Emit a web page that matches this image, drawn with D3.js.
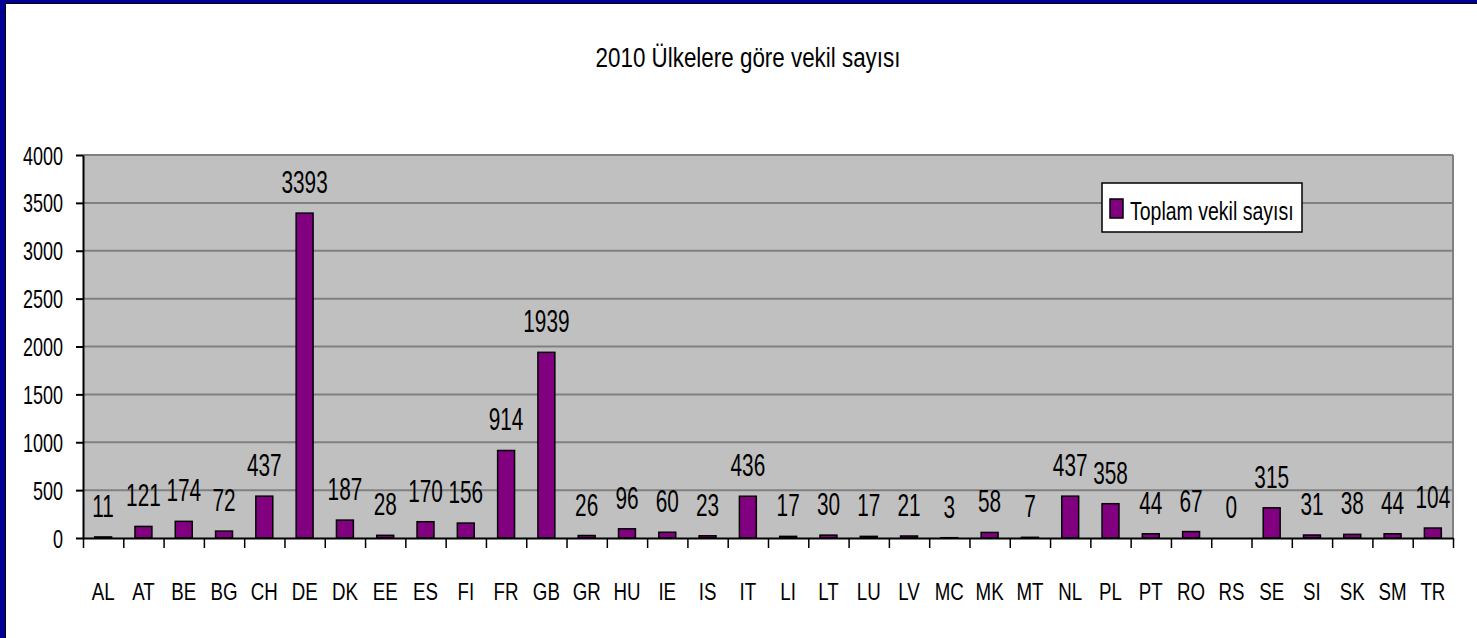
<!DOCTYPE html>
<html>
<head>
<meta charset="utf-8">
<script src="https://cdn.jsdelivr.net/npm/d3@7"></script>
<style>
  html, body { margin: 0; padding: 0; background: #fff; }
  svg text { font-family: "Liberation Sans", Arial, sans-serif; fill: #000; }
</style>
</head>
<body>
<div id="chart"></div>
<script>
// data
const countries = ["AL","AT","BE","BG","CH","DE","DK","EE","ES","FI","FR","GB","GR","HU","IE","IS","IT",
                   "LI","LT","LU","LV","MC","MK","MT","NL","PL","PT","RO","RS","SE","SI","SK","SM","TR"];
const deputies = [11,121,174,72,437,3393,187,28,170,156,914,1939,26,96,60,23,436,
                  17,30,17,21,3,58,7,437,358,44,67,0,315,31,38,44,104];
const yTicks = [0,500,1000,1500,2000,2500,3000,3500,4000];
const seriesName = "Toplam vekil sayısı";
const chartTitle = "2010 Ülkelere göre vekil sayısı";

const W = 1477, H = 638;
const plot = {left: 83, right: 1453, top: 155, bottom: 538};

const svg = d3.select("#chart").append("svg")
  .attr("width", W)
  .attr("height", H);

// frame (blue edge on left and top)
svg.append("rect").attr("x", 0).attr("y", 0).attr("width", W).attr("height", 4).attr("fill", "#000096");
svg.append("rect").attr("x", 0).attr("y", 0).attr("width", 6).attr("height", H).attr("fill", "#000096");
svg.append("line").attr("x1", 5.5).attr("x2", 5.5).attr("y1", 3).attr("y2", H).attr("stroke", "#000").attr("stroke-width", 1);
svg.append("line").attr("x1", 5).attr("x2", W).attr("y1", 3.5).attr("y2", 3.5).attr("stroke", "#000").attr("stroke-width", 1);

// scales
const x = d3.scaleBand()
  .domain(countries)
  .range([plot.left, plot.right])
  .paddingInner(0.58)
  .paddingOuter(0.29);

const xEdge = d3.scaleLinear()
  .domain([0, countries.length])
  .range([plot.left, plot.right]);

const y = d3.scaleLinear()
  .domain([0, 4000])
  .range([plot.bottom, plot.top]);

// plot area
svg.append("rect")
  .attr("x", plot.left).attr("y", plot.top)
  .attr("width", plot.right - plot.left)
  .attr("height", plot.bottom - plot.top)
  .attr("fill", "#c0c0c0");

// grid lines
svg.append("g")
  .selectAll("line")
  .data(yTicks.filter(d => d > 0))
  .join("line")
    .attr("x1", plot.left).attr("x2", plot.right)
    .attr("y1", d => y(d)).attr("y2", d => y(d))
    .attr("stroke", "#808080")
    .attr("stroke-width", 2);

svg.append("line")
  .attr("x1", plot.right).attr("x2", plot.right)
  .attr("y1", plot.top).attr("y2", plot.bottom)
  .attr("stroke", "#808080").attr("stroke-width", 2);

// bars
svg.append("g")
  .selectAll("rect")
  .data(countries.map((c, i) => ({c, v: deputies[i]})).filter(d => d.v > 0))
  .join("rect")
    .attr("x", d => x(d.c))
    .attr("y", d => y(d.v))
    .attr("width", x.bandwidth())
    .attr("height", d => y(0) - y(d.v))
    .attr("fill", "#800080")
    .attr("stroke", "#000")
    .attr("stroke-width", 1.5);

// value labels
svg.append("g")
  .selectAll("text")
  .data(countries.map((c, i) => ({c, v: deputies[i]})))
  .join("text")
    .attr("transform", d => `translate(${x(d.c) + x.bandwidth() / 2},${y(d.v) - 20}) scale(0.65,1)`)
    .attr("text-anchor", "middle")
    .style("font-size", "32px")
    .text(d => d.v);

// y axis
const yAxis = d3.axisLeft(y)
  .tickValues(yTicks)
  .tickFormat(d3.format("d"))
  .tickSizeInner(7)
  .tickSizeOuter(0)
  .tickPadding(18);

const gy = svg.append("g")
  .attr("transform", `translate(${plot.left},0)`)
  .call(yAxis);
gy.select(".domain").attr("stroke", "#000").attr("stroke-width", 2);
gy.selectAll(".tick line").attr("stroke", "#000").attr("stroke-width", 2);
gy.selectAll(".tick text")
  .attr("x", null)
  .attr("dy", "0.36em")
  .attr("transform", "translate(-20,0) scale(0.72,1)")
  .style("font-size", "25px");

// x axis: boundary ticks
const xTicksAxis = d3.axisBottom(xEdge)
  .tickValues(d3.range(countries.length + 1))
  .tickSizeInner(10)
  .tickSizeOuter(0)
  .tickFormat("");

const gx = svg.append("g")
  .attr("transform", `translate(0,${plot.bottom})`)
  .call(xTicksAxis);
gx.select(".domain").attr("stroke", "#000").attr("stroke-width", 2);
gx.selectAll(".tick line").attr("stroke", "#000").attr("stroke-width", 1.5);

// x axis: category labels
const gxl = svg.append("g")
  .attr("transform", `translate(0,${plot.bottom})`)
  .call(d3.axisBottom(x).tickSize(0).tickPadding(0));
gxl.select(".domain").remove();
gxl.selectAll(".tick text")
  .attr("y", null)
  .attr("dy", null)
  .attr("transform", "translate(0,62) scale(0.78,1)")
  .style("font-size", "24px");

// title
svg.append("text")
  .attr("transform", `translate(748,67) scale(0.8,1)`)
  .attr("text-anchor", "middle")
  .style("font-size", "28px")
  .text(chartTitle);

// legend
const legend = svg.append("g").attr("transform", "translate(1102,183)");
legend.append("rect")
  .attr("width", 200).attr("height", 49)
  .attr("fill", "#fff").attr("stroke", "#000").attr("stroke-width", 1.5);
legend.append("rect")
  .attr("x", 8).attr("y", 16).attr("width", 13).attr("height", 19)
  .attr("fill", "#800080").attr("stroke", "#000").attr("stroke-width", 1.5);
legend.append("text")
  .attr("transform", "translate(28,37) scale(0.78,1)")
  .style("font-size", "25px")
  .text(seriesName);
</script>
</body>
</html>
